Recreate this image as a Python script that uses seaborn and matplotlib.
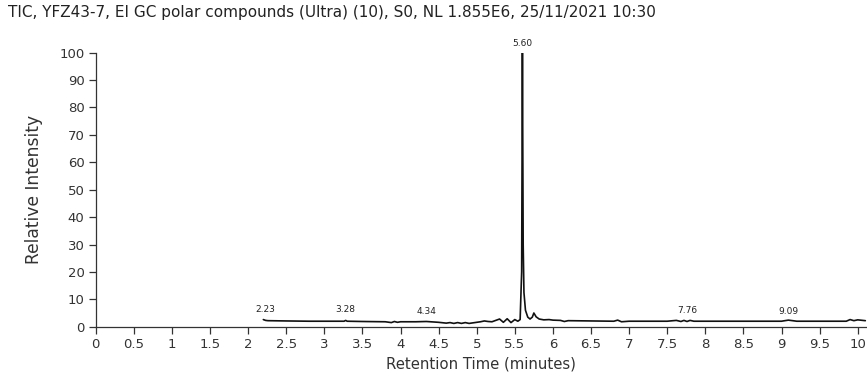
import numpy as np
import pandas as pd
import matplotlib
matplotlib.use("Agg")
import matplotlib.pyplot as plt
import seaborn as sns

# Retention time (minutes) and relative intensity (%)
rt = [2.20, 2.23, 2.26, 2.5, 2.8, 3.0, 3.26, 3.28, 3.30, 3.5, 3.8, 3.88, 3.92, 3.96, 4.0,
      4.2, 4.34, 4.5, 4.6, 4.65, 4.7, 4.75, 4.8, 4.85, 4.9, 4.95, 5.0, 5.05, 5.1, 5.15,
      5.2, 5.3, 5.35, 5.4, 5.45, 5.5, 5.54, 5.57, 5.59, 5.60, 5.61, 5.62, 5.64, 5.67,
      5.70, 5.73, 5.75, 5.78, 5.82, 5.88, 5.95, 6.0, 6.1, 6.15, 6.2, 6.5, 6.8, 6.85,
      6.9, 7.0, 7.5, 7.62, 7.68, 7.72, 7.76, 7.8, 7.85, 8.0, 8.5, 9.0, 9.09, 9.2, 9.5,
      9.85, 9.9, 9.95, 10.0, 10.1]
intensity = [2.6, 2.3, 2.2, 2.1, 2.0, 2.0, 2.0, 2.3, 2.0, 1.9, 1.8, 1.5, 1.9, 1.6, 1.8,
             1.8, 1.9, 1.6, 1.3, 1.5, 1.2, 1.5, 1.2, 1.5, 1.2, 1.4, 1.6, 1.8, 2.1, 1.9,
             1.8, 2.8, 1.6, 2.9, 1.5, 2.6, 2.0, 2.6, 20.0, 100.0, 30.0, 12.5, 6.0, 3.5,
             2.8, 3.5, 5.0, 3.6, 2.8, 2.5, 2.6, 2.4, 2.3, 1.9, 2.2, 2.1, 2.0, 2.4, 1.8,
             2.0, 2.0, 2.3, 1.9, 2.3, 1.9, 2.3, 2.0, 2.0, 2.0, 2.0, 2.4, 2.0, 2.0, 2.0,
             2.6, 2.2, 2.5, 2.2]

peak_times = [2.23, 3.28, 4.34, 5.60, 7.76, 9.09]
peak_labels = ["2.23", "3.28", "4.34", "5.60", "7.76", "9.09"]
peak_label_y = [4.6, 4.6, 3.8, 101.8, 4.4, 3.8]

title = "TIC, YFZ43-7, EI GC polar compounds (Ultra) (10), S0, NL 1.855E6, 25/11/2021 10:30"
x_ticks = [0, 0.5, 1, 1.5, 2, 2.5, 3, 3.5, 4, 4.5, 5, 5.5, 6, 6.5, 7, 7.5, 8, 8.5, 9, 9.5, 10]
x_ticklabels = ["0", "0.5", "1", "1.5", "2", "2.5", "3", "3.5", "4", "4.5", "5", "5.5",
                "6", "6.5", "7", "7.5", "8", "8.5", "9", "9.5", "10"]
y_ticks = [0, 10, 20, 30, 40, 50, 60, 70, 80, 90, 100]

sns.set_style("ticks")
plt.rcParams["font.family"] = ["DejaVu Sans"]

W, H = 867, 372
fig = plt.figure(figsize=(W / 100, H / 100), dpi=100)
x0_px, x1_px = 95.7, 867
y0_px, y1_px = 326.7, 52.7
ax = fig.add_axes([x0_px / W, (H - y0_px) / H, (x1_px - x0_px) / W, (y0_px - y1_px) / H])

df = pd.DataFrame({"rt": rt, "intensity": intensity})
sns.lineplot(data=df, x="rt", y="intensity", ax=ax, color="#111111", linewidth=1.2,
             estimator=None, sort=True)

xmax = (x1_px - x0_px) / 76.2
ax.set_xlim(0, xmax)
ax.set_ylim(0, 100)
ax.set_xticks(x_ticks)
ax.set_xticklabels(x_ticklabels)
ax.set_yticks(y_ticks)
ax.tick_params(axis="both", labelsize=9.5, length=5, width=0.9, color="#333333",
               labelcolor="#333333", pad=3)
for s in ["top", "right"]:
    ax.spines[s].set_visible(False)
for s in ["left", "bottom"]:
    ax.spines[s].set_color("#333333")
    ax.spines[s].set_linewidth(0.9)

ax.set_xlabel("Retention Time (minutes)", fontsize=10.7, color="#333333", labelpad=4)
ax.set_ylabel("Relative Intensity", fontsize=12.3, color="#333333", labelpad=12)

for t, lab, yy in zip(peak_times, peak_labels, peak_label_y):
    ax.text(t, yy, lab, fontsize=6.5, ha="center", va="bottom", color="#222222",
            clip_on=False)

fig.text(8 / W, 1 - 13 / H, title, fontsize=10.95, ha="left", va="center", color="#222222")

fig.savefig("out.png", dpi=100)
